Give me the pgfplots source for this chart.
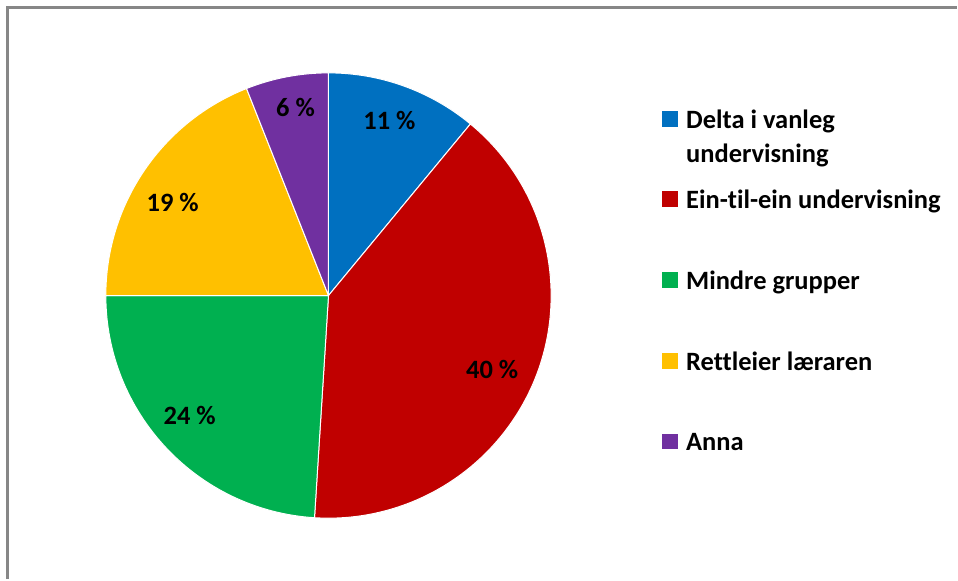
\documentclass[border=0pt]{standalone}
\usepackage{fontspec}
\setmainfont{Carlito}[Ligatures=NoCommon]
\usepackage{pgfplots}
\usepackage{pgfplotstable}
\pgfplotsset{compat=1.18}

\definecolor{c0}{HTML}{0070C0}
\definecolor{c1}{HTML}{C00000}
\definecolor{c2}{HTML}{00B050}
\definecolor{c3}{HTML}{FFC000}
\definecolor{c4}{HTML}{7030A0}
\definecolor{frame}{HTML}{878787}

% share of each answer, in per cent; lx, ly: where its label sits
\pgfplotstableread[col sep=comma]{
label,value,lx,ly
Delta,11,390,459
Ein,40,493,209
Mindre,24,190,163
Rettleier,19,173,377
Anna,6,296,472
}\piedata

\newcommand\lab{\fontsize{13.25}{16}\selectfont\bfseries}

\begin{document}%
\begin{tikzpicture}
% start and end angle of every slice, clockwise from 12 o'clock
\xdef\cumangle{90}
\pgfplotstableforeachcolumnelement{value}\of\piedata\as\val{%
  \pgfmathsetmacro\endang{\cumangle-3.6*\val}%
  \expandafter\xdef\csname sA\pgfplotstablerow\endcsname{\cumangle}%
  \expandafter\xdef\csname eA\pgfplotstablerow\endcsname{\endang}%
  \expandafter\xdef\csname vA\pgfplotstablerow\endcsname{\val}%
  \xdef\cumangle{\endang}%
}
\pgfplotstableforeachcolumnelement{lx}\of\piedata\as\val{%
  \expandafter\xdef\csname xA\pgfplotstablerow\endcsname{\val}}
\pgfplotstableforeachcolumnelement{ly}\of\piedata\as\val{%
  \expandafter\xdef\csname yA\pgfplotstablerow\endcsname{\val}}
\begin{axis}[
    width=479pt, height=290pt,
    scale only axis,
    xmin=0, xmax=958, ymin=0, ymax=580,
    hide axis,
    clip=false,
    legend image code/.code={\fill[#1] (0pt,-2.5pt) rectangle (7.5pt,5pt);},
    legend cell align=left,
    legend style={
        at={(axis cs:663,472)}, anchor=north west,
        draw=none, fill=none, inner sep=0pt,
        row sep=27.4pt, column sep=4pt,
        font=\lab,
        nodes={inner sep=0pt, text height=10pt, text depth=3pt},
    },
]
% whole picture area, and the frame of the chart area
\path (axis cs:0,0) rectangle (axis cs:958,580);
\draw[frame, line width=1.5pt] (axis cs:7.5,0) -- (axis cs:7.5,572.5) -- (axis cs:958,572.5);

\pgfplotsinvokeforeach{0,1,2,3,4}{
  \fill[c#1, draw=white, line width=0.5pt] (axis cs:329,284)
     -- ++(\csname sA#1\endcsname:111.5pt)
     arc[start angle=\csname sA#1\endcsname, end angle=\csname eA#1\endcsname, radius=111.5pt]
     -- cycle;
}
\pgfplotsinvokeforeach{0,1,2,3,4}{
  \node[font=\lab, inner sep=0pt, text height=8.5pt, text depth=0pt]
     at (axis cs:\csname xA#1\endcsname,\csname yA#1\endcsname)
     {\csname vA#1\endcsname~\%};
}

\addlegendimage{c0}
\addlegendentry{{\begin{tabular}[t]{@{}l@{}}Delta i vanleg\\[1pt]undervisning\end{tabular}}}
\addlegendimage{c1}
\addlegendentry{Ein-til-ein undervisning}
\addlegendimage{c2}
\addlegendentry{Mindre grupper}
\addlegendimage{c3}
\addlegendentry{Rettleier læraren}
\addlegendimage{c4}
\addlegendentry{Anna}
\end{axis}
\end{tikzpicture}%
\end{document}
